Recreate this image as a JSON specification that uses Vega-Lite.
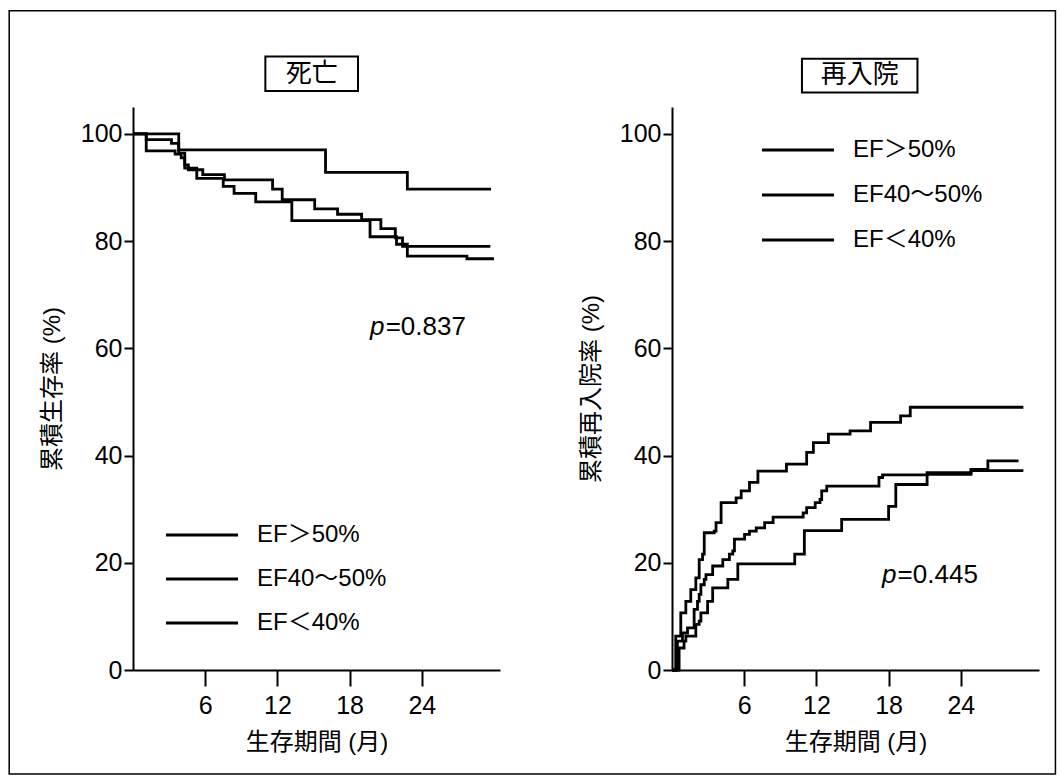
{
  "$schema": "https://vega.github.io/schema/vega-lite/v6.json",
  "padding": {"left": 8, "top": 10, "right": 5, "bottom": 3},
  "background": "white",
  "bounds": "flush",
  "spacing": 172,
  "config": {
    "view": {"stroke": null},
    "font": "Liberation Sans, Noto Sans CJK JP",
    "axis": {
      "domainColor": "black", "domainWidth": 2, "tickColor": "black", "tickWidth": 2,
      "labelColor": "black", "titleColor": "black", "labelFontSize": 25, "titleFontSize": 24,
      "titleFontWeight": "normal", "grid": false, "labelFlush": false,
      "labelFont": "Liberation Sans", "titleFont": "Liberation Sans, Noto Sans CJK JP"
    },
    "axisX": {"tickSize": 16, "labelPadding": 7, "titlePadding": 12},
    "axisY": {"tickSize": 9, "labelPadding": 2, "titlePadding": 16},
    "legend": {
      "orient": "none", "title": null, "padding": 0,
      "symbolType": "M-4,0H4", "symbolSize": 324, "symbolStrokeWidth": 2.8,
      "labelOffset": 43, "labelFontSize": 24, "labelColor": "black",
      "labelFont": "Liberation Sans, Noto Sans CJK JP"
    }
  },
  "datasets": {
    "one": [{}],
    "km": [
      {"panel": "death", "group": "EF＞50%", "month": 0, "value": 100},
      {"panel": "death", "group": "EF＞50%", "month": 3.8, "value": 97.0},
      {"panel": "death", "group": "EF＞50%", "month": 16.0, "value": 92.8},
      {"panel": "death", "group": "EF＞50%", "month": 22.8, "value": 89.7},
      {"panel": "death", "group": "EF＞50%", "month": 29.75, "value": 89.7},

      {"panel": "death", "group": "EF40～50%", "month": 0, "value": 100},
      {"panel": "death", "group": "EF40～50%", "month": 1.1, "value": 98.9},
      {"panel": "death", "group": "EF40～50%", "month": 3.2, "value": 98.2},
      {"panel": "death", "group": "EF40～50%", "month": 3.8, "value": 96.4},
      {"panel": "death", "group": "EF40～50%", "month": 4.3, "value": 94.2},
      {"panel": "death", "group": "EF40～50%", "month": 4.6, "value": 93.3},
      {"panel": "death", "group": "EF40～50%", "month": 5.8, "value": 92.4},
      {"panel": "death", "group": "EF40～50%", "month": 7.6, "value": 91.4},
      {"panel": "death", "group": "EF40～50%", "month": 11.6, "value": 89.7},
      {"panel": "death", "group": "EF40～50%", "month": 12.4, "value": 87.7},
      {"panel": "death", "group": "EF40～50%", "month": 15.1, "value": 86.0},
      {"panel": "death", "group": "EF40～50%", "month": 17.0, "value": 85.0},
      {"panel": "death", "group": "EF40～50%", "month": 19.0, "value": 84.0},
      {"panel": "death", "group": "EF40～50%", "month": 20.6, "value": 82.3},
      {"panel": "death", "group": "EF40～50%", "month": 21.8, "value": 80.6},
      {"panel": "death", "group": "EF40～50%", "month": 22.4, "value": 79.0},
      {"panel": "death", "group": "EF40～50%", "month": 29.7, "value": 79.0},

      {"panel": "death", "group": "EF＜40%", "month": 0, "value": 100},
      {"panel": "death", "group": "EF＜40%", "month": 1.1, "value": 96.8},
      {"panel": "death", "group": "EF＜40%", "month": 3.5, "value": 96.2},
      {"panel": "death", "group": "EF＜40%", "month": 4.0, "value": 95.5},
      {"panel": "death", "group": "EF＜40%", "month": 4.3, "value": 93.6},
      {"panel": "death", "group": "EF＜40%", "month": 5.3, "value": 91.7},
      {"panel": "death", "group": "EF＜40%", "month": 7.5, "value": 90.2},
      {"panel": "death", "group": "EF＜40%", "month": 8.4, "value": 88.9},
      {"panel": "death", "group": "EF＜40%", "month": 10.2, "value": 87.3},
      {"panel": "death", "group": "EF＜40%", "month": 13.2, "value": 83.8},
      {"panel": "death", "group": "EF＜40%", "month": 19.7, "value": 80.8},
      {"panel": "death", "group": "EF＜40%", "month": 21.9, "value": 79.4},
      {"panel": "death", "group": "EF＜40%", "month": 22.8, "value": 77.2},
      {"panel": "death", "group": "EF＜40%", "month": 27.75, "value": 76.7},
      {"panel": "death", "group": "EF＜40%", "month": 30.0, "value": 76.7},

      {"panel": "readmit", "group": "EF＞50%", "month": 0, "value": 0},
      {"panel": "readmit", "group": "EF＞50%", "month": 0.31, "value": 6.3},
      {"panel": "readmit", "group": "EF＞50%", "month": 0.73, "value": 10.65},
      {"panel": "readmit", "group": "EF＞50%", "month": 1.15, "value": 12.8},
      {"panel": "readmit", "group": "EF＞50%", "month": 1.56, "value": 15.0},
      {"panel": "readmit", "group": "EF＞50%", "month": 1.98, "value": 17.2},
      {"panel": "readmit", "group": "EF＞50%", "month": 2.26, "value": 20.6},
      {"panel": "readmit", "group": "EF＞50%", "month": 2.54, "value": 21.6},
      {"panel": "readmit", "group": "EF＞50%", "month": 2.68, "value": 25.6},
      {"panel": "readmit", "group": "EF＞50%", "month": 3.51, "value": 25.9},
      {"panel": "readmit", "group": "EF＞50%", "month": 3.66, "value": 27.5},
      {"panel": "readmit", "group": "EF＞50%", "month": 4.08, "value": 31.2},
      {"panel": "readmit", "group": "EF＞50%", "month": 5.33, "value": 32.1},
      {"panel": "readmit", "group": "EF＞50%", "month": 5.75, "value": 33.4},
      {"panel": "readmit", "group": "EF＞50%", "month": 6.44, "value": 35.0},
      {"panel": "readmit", "group": "EF＞50%", "month": 7.14, "value": 37.1},
      {"panel": "readmit", "group": "EF＞50%", "month": 9.51, "value": 38.4},
      {"panel": "readmit", "group": "EF＞50%", "month": 11.19, "value": 40.6},
      {"panel": "readmit", "group": "EF＞50%", "month": 11.75, "value": 42.4},
      {"panel": "readmit", "group": "EF＞50%", "month": 13.0, "value": 44.0},
      {"panel": "readmit", "group": "EF＞50%", "month": 14.8, "value": 44.6},
      {"panel": "readmit", "group": "EF＞50%", "month": 16.5, "value": 46.2},
      {"panel": "readmit", "group": "EF＞50%", "month": 19.0, "value": 47.4},
      {"panel": "readmit", "group": "EF＞50%", "month": 19.8, "value": 49.0},
      {"panel": "readmit", "group": "EF＞50%", "month": 29.2, "value": 49.0},

      {"panel": "readmit", "group": "EF40～50%", "month": 0, "value": 0},
      {"panel": "readmit", "group": "EF40～50%", "month": 0.45, "value": 5.4},
      {"panel": "readmit", "group": "EF40～50%", "month": 0.87, "value": 6.9},
      {"panel": "readmit", "group": "EF40～50%", "month": 1.29, "value": 7.85},
      {"panel": "readmit", "group": "EF40～50%", "month": 1.84, "value": 11.3},
      {"panel": "readmit", "group": "EF40～50%", "month": 2.12, "value": 12.8},
      {"panel": "readmit", "group": "EF40～50%", "month": 2.26, "value": 14.1},
      {"panel": "readmit", "group": "EF40～50%", "month": 2.4, "value": 15.9},
      {"panel": "readmit", "group": "EF40～50%", "month": 2.68, "value": 16.9},
      {"panel": "readmit", "group": "EF40～50%", "month": 2.82, "value": 17.8},
      {"panel": "readmit", "group": "EF40～50%", "month": 3.38, "value": 19.4},
      {"panel": "readmit", "group": "EF40～50%", "month": 4.22, "value": 20.6},
      {"panel": "readmit", "group": "EF40～50%", "month": 4.77, "value": 21.6},
      {"panel": "readmit", "group": "EF40～50%", "month": 5.05, "value": 22.2},
      {"panel": "readmit", "group": "EF40～50%", "month": 5.19, "value": 24.4},
      {"panel": "readmit", "group": "EF40～50%", "month": 6.03, "value": 25.3},
      {"panel": "readmit", "group": "EF40～50%", "month": 6.44, "value": 25.9},
      {"panel": "readmit", "group": "EF40～50%", "month": 7.0, "value": 26.5},
      {"panel": "readmit", "group": "EF40～50%", "month": 7.7, "value": 27.5},
      {"panel": "readmit", "group": "EF40～50%", "month": 8.4, "value": 28.5},
      {"panel": "readmit", "group": "EF40～50%", "month": 10.9, "value": 29.3},
      {"panel": "readmit", "group": "EF40～50%", "month": 11.19, "value": 30.3},
      {"panel": "readmit", "group": "EF40～50%", "month": 11.9, "value": 31.2},
      {"panel": "readmit", "group": "EF40～50%", "month": 12.3, "value": 31.8},
      {"panel": "readmit", "group": "EF40～50%", "month": 12.44, "value": 33.4},
      {"panel": "readmit", "group": "EF40～50%", "month": 12.86, "value": 34.3},
      {"panel": "readmit", "group": "EF40～50%", "month": 17.2, "value": 35.9},
      {"panel": "readmit", "group": "EF40～50%", "month": 17.5, "value": 36.4},
      {"panel": "readmit", "group": "EF40～50%", "month": 21.2, "value": 36.8},
      {"panel": "readmit", "group": "EF40～50%", "month": 24.85, "value": 37.4},
      {"panel": "readmit", "group": "EF40～50%", "month": 26.25, "value": 39.0},
      {"panel": "readmit", "group": "EF40～50%", "month": 28.8, "value": 39.0},

      {"panel": "readmit", "group": "EF＜40%", "month": 0, "value": 0},
      {"panel": "readmit", "group": "EF＜40%", "month": 0.59, "value": 4.1},
      {"panel": "readmit", "group": "EF＜40%", "month": 1.0, "value": 5.4},
      {"panel": "readmit", "group": "EF＜40%", "month": 1.15, "value": 6.3},
      {"panel": "readmit", "group": "EF＜40%", "month": 1.98, "value": 8.5},
      {"panel": "readmit", "group": "EF＜40%", "month": 2.26, "value": 9.1},
      {"panel": "readmit", "group": "EF＜40%", "month": 2.4, "value": 10.65},
      {"panel": "readmit", "group": "EF＜40%", "month": 2.96, "value": 12.8},
      {"panel": "readmit", "group": "EF＜40%", "month": 3.38, "value": 15.3},
      {"panel": "readmit", "group": "EF＜40%", "month": 4.64, "value": 16.9},
      {"panel": "readmit", "group": "EF＜40%", "month": 5.47, "value": 19.8},
      {"panel": "readmit", "group": "EF＜40%", "month": 10.2, "value": 21.6},
      {"panel": "readmit", "group": "EF＜40%", "month": 11.0, "value": 26.0},
      {"panel": "readmit", "group": "EF＜40%", "month": 14.1, "value": 28.1},
      {"panel": "readmit", "group": "EF＜40%", "month": 18.0, "value": 30.5},
      {"panel": "readmit", "group": "EF＜40%", "month": 18.6, "value": 34.6},
      {"panel": "readmit", "group": "EF＜40%", "month": 21.2, "value": 36.5},
      {"panel": "readmit", "group": "EF＜40%", "month": 24.85, "value": 37.2},
      {"panel": "readmit", "group": "EF＜40%", "month": 29.2, "value": 37.2}
    ]
  },
  "resolve": {"scale": {"color": "independent"}, "legend": {"color": "independent"}},
  "hconcat": [
    {
      "width": 367, "height": 563,
      "layer": [
        {
          "data": {"name": "one"},
          "mark": {"type": "rect", "fill": "transparent", "stroke": "black", "strokeWidth": 1.5},
          "encoding": {
            "x": {"datum": -10.29, "type": "quantitative"}, "x2": {"datum": 76.66},
            "y": {"datum": 122.95, "type": "quantitative"}, "y2": {"datum": -19.4}
          }
        },
        {
          "data": {"name": "one"},
          "mark": {"type": "rect", "fill": "white", "stroke": "black", "strokeWidth": 2},
          "encoding": {
            "x": {"datum": 11.0, "type": "quantitative"}, "x2": {"datum": 18.7},
            "y": {"datum": 114.4, "type": "quantitative"}, "y2": {"datum": 108.0}
          }
        },
        {
          "data": {"name": "one"},
          "mark": {"type": "text", "text": "死亡", "fontSize": 26, "align": "center", "baseline": "middle", "color": "black", "font": "Noto Sans CJK JP"},
          "encoding": {
            "x": {"datum": 14.85, "type": "quantitative"},
            "y": {"datum": 111.2, "type": "quantitative"}
          }
        },
        {
          "data": {"name": "km"},
          "transform": [{"filter": "datum.panel === 'death'"}],
          "mark": {"type": "line", "interpolate": "step-after", "strokeWidth": 2.8},
          "encoding": {
            "x": {"field": "month", "type": "quantitative", "scale": {"domain": [0, 30.5], "nice": false},
                  "axis": {"values": [6, 12, 18, 24], "title": "生存期間 (月)"}},
            "y": {"field": "value", "type": "quantitative", "scale": {"domain": [0, 105], "nice": false},
                  "axis": {"values": [0, 20, 40, 60, 80, 100], "title": "累積生存率 (%)"}},
            "color": {"field": "group", "type": "nominal",
                      "scale": {"domain": ["EF＞50%", "EF40～50%", "EF＜40%"], "range": ["black", "black", "black"]},
                      "legend": {"legendX": 57, "legendY": 416, "rowPadding": 20}}
          }
        },
        {
          "data": {"name": "one"},
          "mark": {"type": "text", "text": "p", "fontSize": 26, "fontStyle": "italic", "align": "right", "baseline": "middle", "color": "black"},
          "encoding": {"x": {"datum": 20.9, "type": "quantitative"}, "y": {"datum": 64.0, "type": "quantitative"}}
        },
        {
          "data": {"name": "one"},
          "mark": {"type": "text", "text": "=0.837", "fontSize": 26, "align": "left", "baseline": "middle", "color": "black"},
          "encoding": {"x": {"datum": 21.0, "type": "quantitative"}, "y": {"datum": 64.0, "type": "quantitative"}}
        }
      ]
    },
    {
      "width": 367, "height": 563,
      "layer": [
        {
          "data": {"name": "one"},
          "mark": {"type": "rect", "fill": "white", "stroke": "black", "strokeWidth": 2},
          "encoding": {
            "x": {"datum": 10.8, "type": "quantitative"}, "x2": {"datum": 20.4},
            "y": {"datum": 114.0, "type": "quantitative"}, "y2": {"datum": 107.7}
          }
        },
        {
          "data": {"name": "one"},
          "mark": {"type": "text", "text": "再入院", "fontSize": 26, "align": "center", "baseline": "middle", "color": "black", "font": "Noto Sans CJK JP"},
          "encoding": {
            "x": {"datum": 15.6, "type": "quantitative"},
            "y": {"datum": 110.9, "type": "quantitative"}
          }
        },
        {
          "data": {"name": "km"},
          "transform": [{"filter": "datum.panel === 'readmit'"}],
          "mark": {"type": "line", "interpolate": "step-after", "strokeWidth": 2.8},
          "encoding": {
            "x": {"field": "month", "type": "quantitative", "scale": {"domain": [0, 30.5], "nice": false},
                  "axis": {"values": [6, 12, 18, 24], "title": "生存期間 (月)"}},
            "y": {"field": "value", "type": "quantitative", "scale": {"domain": [0, 105], "nice": false},
                  "axis": {"values": [0, 20, 40, 60, 80, 100], "title": "累積再入院率 (%)"}},
            "color": {"field": "group", "type": "nominal",
                      "scale": {"domain": ["EF＞50%", "EF40～50%", "EF＜40%"], "range": ["black", "black", "black"]},
                      "legend": {"legendX": 114, "legendY": 31, "rowPadding": 21}}
          }
        },
        {
          "data": {"name": "one"},
          "mark": {"type": "text", "text": "p", "fontSize": 26, "fontStyle": "italic", "align": "right", "baseline": "middle", "color": "black"},
          "encoding": {"x": {"datum": 18.65, "type": "quantitative"}, "y": {"datum": 17.8, "type": "quantitative"}}
        },
        {
          "data": {"name": "one"},
          "mark": {"type": "text", "text": "=0.445", "fontSize": 26, "align": "left", "baseline": "middle", "color": "black"},
          "encoding": {"x": {"datum": 18.75, "type": "quantitative"}, "y": {"datum": 17.8, "type": "quantitative"}}
        }
      ]
    }
  ]
}
